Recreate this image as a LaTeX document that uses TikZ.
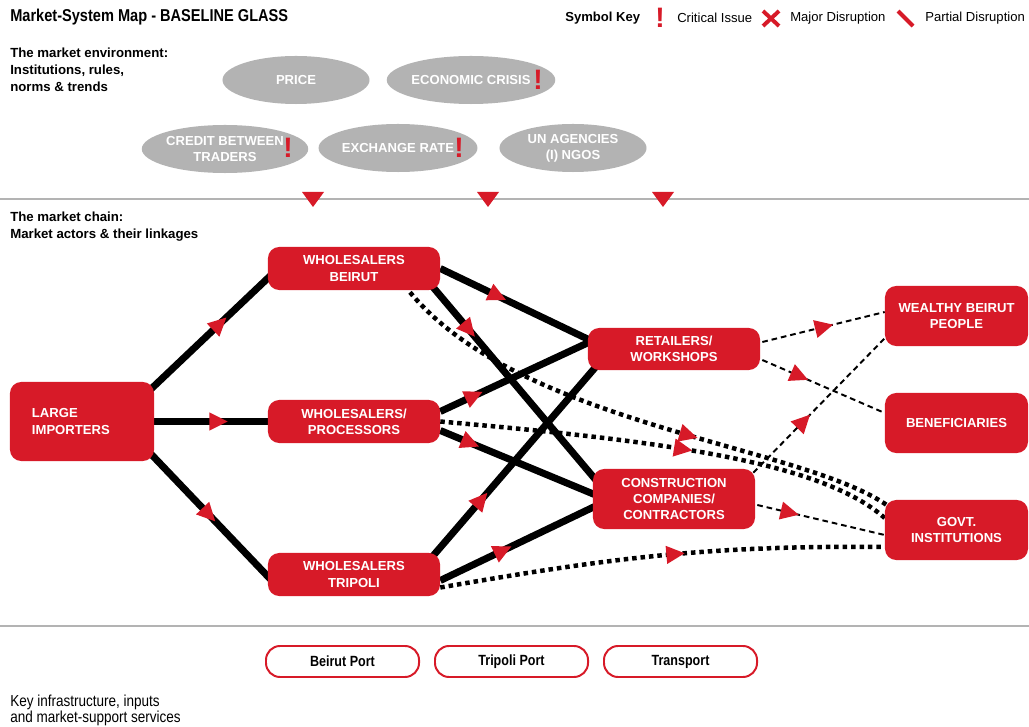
\documentclass[tikz,border=0pt]{standalone}
\usepackage{fontspec}
\setmainfont{Liberation Sans}
\newfontfamily\condfont[FakeStretch=0.85]{Liberation Sans}
\usetikzlibrary{shapes.geometric,decorations.markings,backgrounds}
\definecolor{mapred}{HTML}{D71A28}
\definecolor{envgray}{HTML}{B3B3B3}
\newcommand{\boxfont}{\fontsize{9.3}{11.4}\selectfont\bfseries}

\begin{document}
\begin{tikzpicture}[x=0.025cm,y=-0.025cm,
    actor/.style={fill=mapred, rounded corners=8pt, text=white, align=center, inner sep=2pt, font=\boxfont},
    envoval/.style={ellipse, fill=envgray, text=white, align=center, inner sep=0pt,
                    minimum width=3.675cm, minimum height=1.2cm, font=\boxfont},
    crit/.style={text=mapred, inner sep=0pt, font=\fontsize{20}{20}\selectfont\bfseries},
    service/.style={draw=mapred, line width=1.4pt, rounded corners=10pt, fill=white,
                    minimum width=3.825cm, minimum height=0.775cm, font=\condfont\fontsize{10.5}{12}\selectfont\bfseries},
    chainline/.style={line width=5pt},
    dotlink/.style={line width=3.2pt, dash pattern=on 3.2pt off 2.8pt},
    dashlink/.style={line width=1.4pt, dash pattern=on 4pt off 2.8pt},
    flowat/.style={postaction={decorate}, decoration={markings, mark=at position #1 with
                   {\fill[mapred] (7pt,0) -- (-6pt,6.5pt) -- (-6pt,-6.5pt) -- cycle;}}},
    heading/.style={anchor=west, align=left, inner sep=0pt, font=\fontsize{9.4}{12}\selectfont\bfseries}]
  \useasboundingbox (0,0) rectangle (1029,727);

  % title and symbol key
  \node[anchor=west, inner sep=0pt, font=\condfont\fontsize{12.2}{14}\selectfont\bfseries] (title) at (10,17) {Market-System Map - BASELINE GLASS};
  \node[anchor=west, inner sep=0pt, font=\fontsize{9.3}{11}\selectfont\bfseries] (keyhead) at (565,18) {Symbol Key};
  \node[crit] (keycrit) at (660,18) {!};
  \node[anchor=west, inner sep=0pt, font=\fontsize{9.3}{11}\selectfont] (keycrittxt) at (677,18) {Critical Issue};
  \draw[mapred, line width=2.8pt] (763,11) -- (779,26) (779,11) -- (763,26);
  \node[anchor=west, inner sep=0pt, font=\fontsize{9.3}{11}\selectfont] (keymajor) at (790,18) {Major Disruption};
  \draw[mapred, line width=2.8pt] (898,11) -- (913,26);
  \node[anchor=west, inner sep=0pt, font=\fontsize{9.3}{11}\selectfont] (keypartial) at (925,18) {Partial Disruption};

  % market environment
  \node[heading] (envhead) at (10,70) {The market environment:\\Institutions, rules,\\norms \& trends};
  \node[envoval] (price)  at (296,80)  {PRICE};
  \node[envoval] (crisis) at (471,80)  {ECONOMIC CRISIS};
  \node[envoval] (credit) at (225,149) {CREDIT BETWEEN\\TRADERS};
  \node[envoval] (xrate)  at (398,148) {EXCHANGE RATE};
  \node[envoval] (ngos)   at (573,148) {UN AGENCIES\\(I) NGOS};
  \node[crit] (crisiscrit) at (538,80)  {!};
  \node[crit] (creditcrit) at (288,148) {!};
  \node[crit] (xratecrit)  at (459,148) {!};

  \draw[envgray, line width=2pt] (0,199) -- (1029,199);
  \foreach \x in {313,488,663}
    \fill[mapred] (\x-11,192) -- (\x+11,192) -- (\x,207) -- cycle;

  % market chain
  \node[heading] (chainhead) at (10,227) {The market chain:\\Market actors \& their linkages};
  \node[actor, minimum width=3.6cm, minimum height=1.975cm, align=left, text width=2.5cm, inner xsep=0.55cm] (li) at (82,421.5) {LARGE\\IMPORTERS};
  \node[actor, minimum width=4.3cm, minimum height=1.075cm] (wb) at (354,268.5) {WHOLESALERS\\BEIRUT};
  \node[actor, minimum width=4.3cm, minimum height=1.075cm] (wp) at (354,421.5) {WHOLESALERS/\\PROCESSORS};
  \node[actor, minimum width=4.3cm, minimum height=1.075cm] (wt) at (354,574.5) {WHOLESALERS\\TRIPOLI};
  \node[actor, minimum width=4.3cm, minimum height=1.05cm] (rw) at (674,349) {RETAILERS/\\WORKSHOPS};
  \node[actor, minimum width=4.05cm, minimum height=1.5cm] (cc) at (674,499) {CONSTRUCTION\\COMPANIES/\\CONTRACTORS};
  \node[actor, minimum width=3.575cm, minimum height=1.5cm] (wbp) at (956.5,316) {WEALTHY BEIRUT\\PEOPLE};
  \node[actor, minimum width=3.575cm, minimum height=1.5cm] (ben) at (956.5,423) {BENEFICIARIES};
  \node[actor, minimum width=3.575cm, minimum height=1.5cm] (govt) at (956.5,530) {GOVT.\\INSTITUTIONS};

  \begin{scope}[on background layer]
    % main trade flows
    \draw[chainline, flowat=0.57] ([shift={(-4,8)}]li.north east) -- ([shift={(4,6)}]wb.west);
    \draw[chainline, flowat=0.56] (li.east) -- (wp.west);
    \draw[chainline, flowat=0.48] ([shift={(-4,-8)}]li.south east) -- ([shift={(4,6)}]wt.west);
    \draw[chainline, flowat=0.375] (wb.east) -- ([shift={(4,-8)}]rw.west);
    \draw[chainline, flowat=0.22] ([shift={(-8,-4)}]wb.south east) -- ([shift={(4,-18)}]cc.west);
    \draw[chainline, flowat=0.22] ([shift={(0,-10)}]wp.east) -- ([shift={(4,-8)}]rw.west);
    \draw[chainline, flowat=0.19] ([shift={(0,9)}]wp.east) -- ([shift={(3,-4)}]cc.west);
    \draw[chainline, flowat=0.29] ([shift={(-8,4)}]wt.north east) -- ([shift={(12,-8)}]rw.south west);
    \draw[chainline, flowat=0.4] ([shift={(0,6)}]wt.east) -- ([shift={(3,7)}]cc.west);
    % flows to government
    \draw[dotlink, flowat=0.6] ([shift={(56,2)}]wb.south) .. controls (520,425) and (800,445) .. ([shift={(2,-25)}]govt.west);
    \draw[dotlink, flowat=0.53] (wp.east) .. controls (650,440) and (820,460) .. ([shift={(0,-12)}]govt.west);
    \draw[dotlink, flowat=0.53] ([shift={(0,13)}]wt.east) .. controls (600,560) and (700,545) .. ([shift={(0,17)}]govt.west);
    % end users
    \draw[dashlink, flowat=0.5] ([shift={(2,-7)}]rw.east) -- ([shift={(0,-4)}]wbp.west);
    \draw[dashlink, flowat=0.3] ([shift={(2,11)}]rw.east) -- ([shift={(0,-10)}]ben.west);
    \draw[dashlink, flowat=0.38] ([shift={(-2,4)}]cc.north east) -- ([shift={(0,-8)}]wbp.south west);
    \draw[dashlink, flowat=0.25] ([shift={(2,6)}]cc.east) -- ([shift={(0,5)}]govt.west);
  \end{scope}

  % infrastructure and services
  \draw[envgray, line width=2pt] (0,626) -- (1029,626);
  \node[service] (bport) at (342.5,661.5) {Beirut Port};
  \node[service] (tport) at (511.5,661.5) {Tripoli Port};
  \node[service] (trans) at (680.5,661.5) {Transport};
  \node[anchor=west, align=left, inner sep=0pt, font=\condfont\fontsize{11.3}{11.4}\selectfont] (infrahead) at (10,710) {Key infrastructure, inputs\\and market-support services};
\end{tikzpicture}
\end{document}
